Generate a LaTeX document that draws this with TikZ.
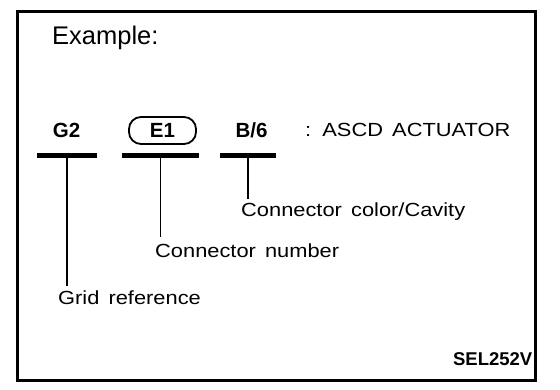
\documentclass[tikz,border=0pt]{standalone}
\usepackage{fontspec}
\setmainfont{Liberation Sans}
\newfontfamily\widesans[FakeStretch=1.15,WordSpace=1.5]{Liberation Sans}
\begin{document}
\begin{tikzpicture}[x=1pt,y=-1pt,
  lbl/.style={inner sep=0pt,anchor=base west,font=\widesans\fontsize{19}{21}\selectfont},
  conn/.style={inner sep=0pt,anchor=base,font=\bfseries\fontsize{20.5}{22}\selectfont},
  bar/.style={line width=5pt},
  lead/.style={line width=1.6pt}]
\useasboundingbox (0,0) rectangle (560,390);
\draw[line width=3pt] (17.5,11.5) rectangle (535.5,380.5);
\node[inner sep=0pt,anchor=base west,font=\fontsize{25.5}{28}\selectfont] (title) at (52,45) {Example:};
% connector code line
\node[conn] (g2) at (66.5,137.5) {G2};
\node[conn,draw,line width=1.8pt,rounded corners=12pt,minimum width=67pt,minimum height=27pt,anchor=center] (e1) at (162.5,130.5) {E1};
\node[conn] (b6) at (251.5,137.5) {B/6};
\node[lbl] (name) at (305,137) {: ASCD ACTUATOR};
\coordinate (g2bar) at (67,155.5);
\coordinate (e1bar) at (160.5,155.5);
\coordinate (b6bar) at (248,155.5);
\draw[bar] ([xshift=-30pt]g2bar) -- ([xshift=30pt]g2bar);
\draw[bar] ([xshift=-38.5pt]e1bar) -- ([xshift=38.5pt]e1bar);
\draw[bar] ([xshift=-28pt]b6bar) -- ([xshift=28pt]b6bar);
% explanations
\node[lbl] (cavity) at (241,217) {Connector color/Cavity};
\node[lbl] (number) at (155,258) {Connector number};
\node[lbl] (grid) at (58,305) {Grid reference};
\draw[lead,shorten >=4pt] (b6bar) -- (b6bar |- cavity.north);
\draw[lead,shorten >=7pt] (e1bar) -- (e1bar |- number.north);
\draw[lead,shorten >=5pt] (g2bar) -- (g2bar |- grid.north);
\node[inner sep=0pt,anchor=base east,font=\bfseries\fontsize{18.5}{20}\selectfont] (code) at (532.5,365) {SEL252V};
\end{tikzpicture}
\end{document}
